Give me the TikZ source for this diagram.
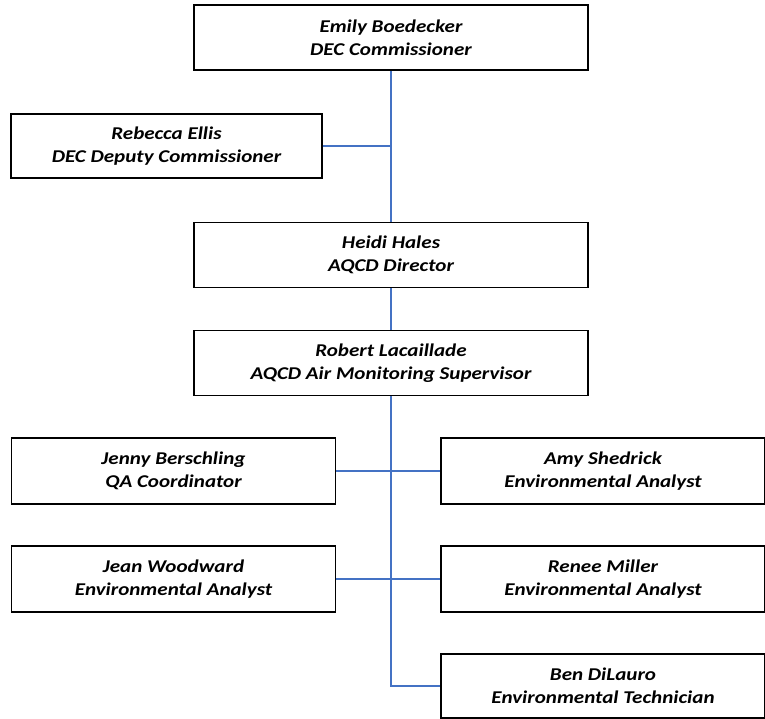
\documentclass[tikz,border=0pt]{standalone}
\usepackage{fontspec}
\setmainfont{Carlito}[FakeStretch=1.17]
\usepackage{xcolor}
\definecolor{linkblue}{RGB}{68,114,196}

\begin{document}
\begin{tikzpicture}[x=1pt,y=-1pt,
  staffbox/.style={draw=black,line width=1.6pt,fill=white,align=center,
    inner sep=0pt,font=\fontsize{18}{23}\selectfont\bfseries\itshape},
  wide/.style={staffbox,minimum width=394pt,minimum height=65pt},
  side/.style={staffbox,minimum width=324pt,minimum height=66pt},
  link/.style={draw=linkblue,line width=1.3pt}]
\useasboundingbox (0,0) rectangle (765,719);

\node[wide] (emily) at (391,37.5) {Emily Boedecker\\DEC Commissioner};
\node[staffbox,minimum width=311pt,minimum height=64pt] (rebecca) at (166.5,146) {Rebecca Ellis\\DEC Deputy Commissioner};
\node[wide] (heidi) at (391,255) {Heidi Hales\\AQCD Director};
\node[wide] (robert) at (391,363) {Robert Lacaillade\\AQCD Air Monitoring Supervisor};

\node[side] (jenny) at (173.5,471) {Jenny Berschling\\QA Coordinator};
\node[side] (amy) at (603,471) {Amy Shedrick\\Environmental Analyst};
\node[side] (jean) at (173.5,579) {Jean Woodward\\Environmental Analyst};
\node[side] (renee) at (603,579) {Renee Miller\\Environmental Analyst};
\node[side,minimum height=64pt] (ben) at (603,686) {Ben DiLauro\\Environmental Technician};

\draw[link] (emily.south)--(heidi.north);
\draw[link] (rebecca.east)--(rebecca.east -| emily.south);
\draw[link] (heidi.south)--(robert.north);
\draw[link] (robert.south) |- (ben.west);
\draw[link] (jenny.east)--(amy.west);
\draw[link] (jean.east)--(renee.west);
\end{tikzpicture}
\end{document}
